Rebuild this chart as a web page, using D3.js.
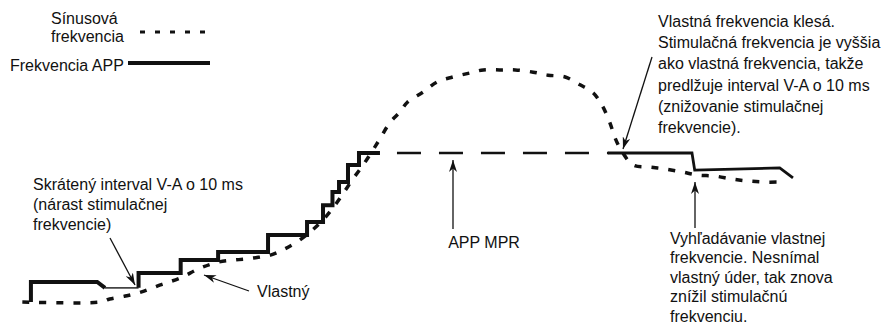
<!DOCTYPE html>
<html><head><meta charset="utf-8">
<script src="https://cdn.jsdelivr.net/npm/d3@7"></script>
<style>
body{margin:0;background:#fff}
svg text{font-family:"Liberation Sans",Arial,Helvetica,sans-serif;font-size:16px;fill:#111}
</style>
</head><body>
<svg id="c" width="881" height="324"></svg>
<script>
// ---- data (time in arbitrary units 0..100, rate in bpm) ----
const sinusT = [0.3,10.3,11.5,13.5,15.6,18.0,20.5,23.1,25.4,27.6,29.9,32.1,33.7,35.5,37.2,38.7,40.1,41.3,42.6,43.9,45.1,46.2,47.4,48.7,49.7,51.7,53.5,55.5,57.7,59.4,61.5,63.5,65.8,67.7,69.9,71.8,73.5,74.6,75.6,76.3,77.2,78.6,80.8,82.7,84.9,86.8,89.1,91.3,93.3,95.3,97.4];
const sinusBpm = [60.0,60.0,60.8,61.6,62.7,64.6,66.4,69.1,70.7,71.3,71.8,72.6,74.0,76.1,78.8,81.7,85.2,88.7,92.8,96.5,100.3,104.0,108.1,111.0,113.7,116.4,119.1,120.4,121.5,122.3,122.3,122.3,121.7,120.9,120.4,118.3,116.1,112.9,108.3,104.0,100.3,96.8,96.2,95.7,94.9,94.1,93.8,93.0,92.5,92.2,92.2];

const appStartT = [1.4,1.4,9.9,10.9];
const appStartBpm = [60.0,65.4,65.4,63.8];
const appHoldT = [10.9,15.2];
const appHoldBpm = [63.8,63.8];
const appStairsT = [15.2,15.2,20.6,20.6,25.4,25.4,31.8,31.8,36.8,36.8,38.85,38.85,40.06,40.06,40.9,40.9,42.05,42.05,43.46,43.46,46.15];
const appStairsBpm = [63.8,67.8,67.8,71.3,71.3,73.4,73.4,78.0,78.0,81.5,81.5,86.0,86.0,89.5,89.5,92.2,92.2,96.8,96.8,100,100];
const mprT = [46.15,75.5];
const mprBpm = [100,100];
const appDescentT = [75.4,86.15,86.5,97.4,99.1];
const appDescentBpm = [100,100,95.4,96.0,93.3];

const legendLabels = [["Sínusová","frekvencia"],["Frekvencia APP"]];
const noteShortened = ["Skrátený interval V-A o 10 ms","(nárast stimulačnej","frekvencie)"];
const noteIntrinsic = ["Vlastný"];
const noteMpr = ["APP MPR"];
const noteDrop = ["Vlastná frekvencia klesá.","Stimulačná frekvencia je vyššia","ako vlastná frekvencia, takže","predlžuje interval V-A o 10 ms","(znižovanie stimulačnej","frekvencie)."];
const noteSearch = ["Vyhľadávanie vlastnej","frekvencie. Nesnímal","vlastný úder, tak znova","znížil stimulačnú","frekvenciu."];

// ---- scales ----
const svg = d3.select("#c");
const x = d3.scaleLinear().domain([0,100]).range([20,800]);
const y = d3.scaleLinear().domain([60,130]).range([302,41.25]);
const zip = (a,b) => a.map((v,i)=>[v,b[i]]);
const line = d3.line().x(d=>x(d[0])).y(d=>y(d[1]));
const smooth = d3.line().x(d=>x(d[0])).y(d=>y(d[1])).curve(d3.curveCatmullRom.alpha(0.5));

const defs = svg.append("defs");
defs.append("marker").attr("id","ah").attr("viewBox","0 0 12 8")
  .attr("refX",12).attr("refY",4).attr("markerWidth",12).attr("markerHeight",8)
  .attr("markerUnits","userSpaceOnUse").attr("orient","auto")
  .append("path").attr("d","M0,0 L12,4 L0,8 L3.5,4 Z").attr("fill","#111");

// sinus
svg.append("path").attr("d",smooth(zip(sinusT,sinusBpm))).attr("fill","none")
  .attr("stroke","#111").attr("stroke-width",3.5).attr("stroke-dasharray","7,10");

// MPR dashed
svg.append("path").attr("d",line(zip(mprT,mprBpm))).attr("fill","none")
  .attr("stroke","#111").attr("stroke-width",2.6).attr("stroke-dasharray","24,18").attr("stroke-dashoffset",25);

// APP pieces
svg.append("path").attr("d",line(zip(appHoldT,appHoldBpm))).attr("fill","none")
  .attr("stroke","#444").attr("stroke-width",1.6);
svg.append("path").attr("d",line(zip(appStartT,appStartBpm))).attr("fill","none")
  .attr("stroke","#111").attr("stroke-width",4).attr("stroke-linejoin","miter");
svg.append("path").attr("d",line(zip(appStairsT,appStairsBpm))).attr("fill","none")
  .attr("stroke","#111").attr("stroke-width",4).attr("stroke-linejoin","miter");
svg.append("path").attr("d",line(zip(appDescentT,appDescentBpm))).attr("fill","none")
  .attr("stroke","#111").attr("stroke-width",2.8).attr("stroke-linejoin","miter");

// legend
svg.append("line").attr("x1",140).attr("x2",213).attr("y1",32).attr("y2",32)
  .attr("stroke","#111").attr("stroke-width",3).attr("stroke-dasharray","5,10");
svg.append("line").attr("x1",128).attr("x2",210).attr("y1",63).attr("y2",63)
  .attr("stroke","#111").attr("stroke-width",4);

function block(lines, x0, y0, dy, anchor){
  const t = svg.append("text").attr("text-anchor",anchor||"start");
  lines.forEach((s,i)=>t.append("tspan").attr("x",x0).attr("y",y0+i*dy).text(s));
}
block(legendLabels[0],51,24,17.7);
block(legendLabels[1],10,70.5,0);
block(noteShortened,33,190,20);
block(noteIntrinsic,257,297,0);
block(noteMpr,484,248,0,"middle");
block(noteDrop,658,26.7,21.3);
block(noteSearch,670,244,19.4);

// arrows
function arrow(x1,y1,x2,y2){
  svg.append("line").attr("x1",x1).attr("y1",y1).attr("x2",x2).attr("y2",y2)
    .attr("stroke","#111").attr("stroke-width",1.3).attr("marker-end","url(#ah)");
}
arrow(110,238,135,285);
arrow(249,291,204,275);
arrow(453,229,453,160);
arrow(652,57,623,149);
arrow(695,228,695,182);
</script>
</body></html>
